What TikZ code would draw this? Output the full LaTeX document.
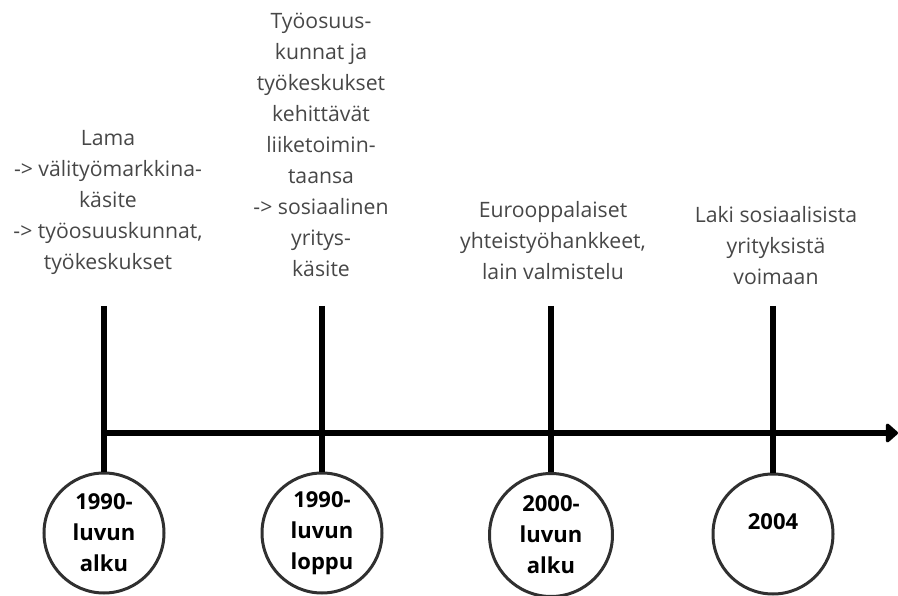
\documentclass[tikz,border=0pt]{standalone}
\usepackage{fontspec}
\setmainfont{Open Sans}
\usetikzlibrary{arrows.meta}
\definecolor{txtgray}{HTML}{474747}
\definecolor{ringgray}{HTML}{303030}
\begin{document}
\begin{tikzpicture}[x=1pt,y=-1pt,
  desc/.style={align=center, font=\fontsize{21.2}{31}\selectfont, text=txtgray, inner sep=0pt, anchor=north},
  yearcirc/.style={circle, draw=ringgray, line width=3pt, minimum size=120pt, inner sep=0pt, align=center, font=\fontsize{22}{31}\selectfont\bfseries, text=black},
  stem/.style={line width=6pt},
  axis/.style={line width=6pt, -{Triangle[length=13pt,width=22pt,round]}}]
\useasboundingbox (0,0) rectangle (898,596);

% descriptions
\node[desc] (d1) at (108,130) {Lama\\-> välityömarkkina-\\käsite\\-> työosuuskunnat,\\työkeskukset};
\node[desc] (d2) at (321,13) {Työosuus-\\kunnat ja\\työkeskukset\\kehittävät\\liiketoimin-\\taansa\\-> sosiaalinen\\yritys-\\käsite};
\node[desc] (d3) at (553,201) {Eurooppalaiset\\yhteistyöhankkeet,\\lain valmistelu};
\node[desc] (d4) at (776,206) {Laki sosiaalisista\\yrityksistä\\voimaan};

% circles
\node[yearcirc] (c1) at (104,533) {1990-\\luvun\\alku};
\node[yearcirc] (c2) at (322,533) {1990-\\luvun\\loppu};
\node[yearcirc, minimum size=123pt] (c3) at (551,535) {2000-\\luvun\\alku};
\node[yearcirc, text depth=24pt] (c4) at (773,534) {2004};

% stems
\coordinate (t1) at (104,306);
\coordinate (t2) at (322,306);
\coordinate (t3) at (551,306);
\coordinate (t4) at (773,306);
\draw[stem] (t1) -- (c1.north);
\draw[stem] (t2) -- (c2.north);
\draw[stem] (t3) -- (c3.north);
\draw[stem] (t4) -- (c4.north);

% axis
\coordinate (a0) at (104,433);
\coordinate (a1) at (898,433);
\draw[axis] (a0) -- (a1);
\end{tikzpicture}
\end{document}
